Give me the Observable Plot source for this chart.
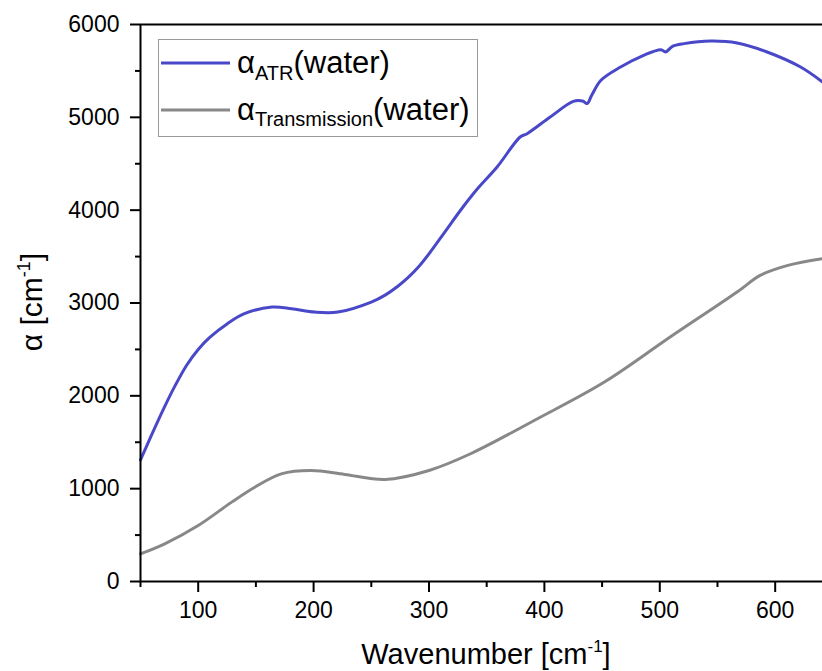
<!DOCTYPE html>
<html>
<head>
<meta charset="utf-8">
<script src="https://cdn.jsdelivr.net/npm/d3@7"></script>
<script src="https://cdn.jsdelivr.net/npm/@observablehq/plot@0.6"></script>
<style>
  html, body { margin: 0; padding: 0; background: #fff; overflow: hidden; }
</style>
</head>
<body>
<div id="chart"></div>
<script>
// ATR absorption coefficient (water)
const atrWavenumber = [50, 60, 70, 80, 90, 100, 110, 125, 140, 164, 181, 201, 221, 250, 262, 273, 282, 291, 300, 314, 328, 342, 359, 379, 385, 405, 425, 433, 437, 441, 449, 466, 486, 501, 505, 511, 521, 544, 567, 593, 622, 641];
const atrAlpha      = [1310, 1590, 1860, 2110, 2330, 2500, 2630, 2775, 2885, 2956, 2938, 2902, 2902, 3010, 3085, 3180, 3275, 3390, 3530, 3770, 4010, 4230, 4465, 4788, 4824, 5003, 5172, 5176, 5148, 5237, 5399, 5542, 5668, 5729, 5704, 5765, 5794, 5822, 5801, 5704, 5542, 5381];

// Transmission absorption coefficient (water)
const transWavenumber = [50, 71, 100, 129, 149, 172, 198, 227, 262, 300, 336, 394, 452, 509, 567, 587, 611, 641];
const transAlpha      = [298, 406, 603, 855, 1016, 1160, 1196, 1153, 1099, 1196, 1376, 1753, 2148, 2633, 3118, 3297, 3405, 3477];

// Axis ticks
const xMajorTicks = [100, 200, 300, 400, 500, 600];
const xMinorTicks = [50, 150, 250, 350, 450, 550];
const yMajorTicks = [0, 1000, 2000, 3000, 4000, 5000, 6000];
const yMinorTicks = [500, 1500, 2500, 3500, 4500, 5500];

const seriesNames = ["ATR", "Transmission"];
const seriesColors = ["#4848c8", "#888888"];

const atrData = atrWavenumber.map((x, i) => ({x, y: atrAlpha[i]}));
const transData = transWavenumber.map((x, i) => ({x, y: transAlpha[i]}));

const font = "'Liberation Sans', Arial, Helvetica, sans-serif";

const plot = Plot.plot({
  width: 822,
  height: 671,
  marginLeft: 140,
  marginRight: 0,
  marginTop: 24,
  marginBottom: 90,
  style: {fontFamily: font, fontSize: "23px", color: "#000", background: "#fff"},
  x: {domain: [50, 641], axis: null},
  y: {domain: [0, 6000], axis: null},
  marks: [
    Plot.line(transData, {x: "x", y: "y", stroke: seriesColors[1], strokeWidth: 3, curve: "catmull-rom"}),
    Plot.line(atrData, {x: "x", y: "y", stroke: seriesColors[0], strokeWidth: 3, curve: "catmull-rom"}),
    Plot.axisX(xMajorTicks, {tickSize: 11, tickPadding: 9, strokeWidth: 2, tickFormat: d3.format("d"), label: null, fontSize: 23}),
    Plot.axisX(xMinorTicks, {tickSize: 6, strokeWidth: 2, tickFormat: () => "", label: null}),
    Plot.axisY(yMajorTicks, {tickSize: 10, tickPadding: 11, strokeWidth: 2, tickFormat: d3.format("d"), label: null, fontSize: 23}),
    Plot.axisY(yMinorTicks, {tickSize: 5, strokeWidth: 2, tickFormat: () => "", label: null}),
    Plot.ruleX([50], {stroke: "#000", strokeWidth: 2}),
    Plot.ruleY([0], {stroke: "#000", strokeWidth: 2}),
    Plot.ruleY([6000], {stroke: "#000", strokeWidth: 2})
  ]
});

document.getElementById("chart").appendChild(plot);

const svg = d3.select(plot);

// Legend
const lg = svg.append("g").attr("font-family", font).attr("text-anchor", "start");
lg.append("rect")
  .attr("x", 158.5).attr("y", 39.5).attr("width", 319).attr("height", 97)
  .attr("fill", "#fff").attr("stroke", "#999").attr("stroke-width", 1);

const rows = [
  {name: seriesNames[0], color: seriesColors[0], ly: 63, base: 73, dy: 7},
  {name: seriesNames[1], color: seriesColors[1], ly: 110, base: 120, dy: 6}
];
rows.forEach(r => {
  lg.append("line").attr("x1", 161).attr("x2", 230).attr("y1", r.ly).attr("y2", r.ly)
    .attr("stroke", r.color).attr("stroke-width", 3);
  const t = lg.append("text").attr("x", 237).attr("y", r.base).attr("font-size", 31)
    .attr("fill", "#000").attr("text-anchor", "start");
  t.append("tspan").text("α");
  t.append("tspan").attr("font-size", 20).attr("dy", r.dy).text(r.name);
  t.append("tspan").attr("dy", -r.dy).text("(water)");
});

// X axis title
const xt = svg.append("text")
  .attr("x", 486).attr("y", 664)
  .attr("text-anchor", "middle").attr("font-family", font).attr("font-size", 29).attr("fill", "#000");
xt.append("tspan").text("Wavenumber [cm");
xt.append("tspan").attr("font-size", 17).attr("dy", -12).text("-1");
xt.append("tspan").attr("dy", 12).text("]");

// Y axis title
const yt = svg.append("text")
  .attr("transform", "translate(42,302) rotate(-90)")
  .attr("text-anchor", "middle").attr("font-family", font).attr("font-size", 30).attr("fill", "#000");
yt.append("tspan").text("α [cm");
yt.append("tspan").attr("font-size", 18).attr("dy", -12).text("-1");
yt.append("tspan").attr("dy", 12).text("]");
</script>
</body>
</html>
